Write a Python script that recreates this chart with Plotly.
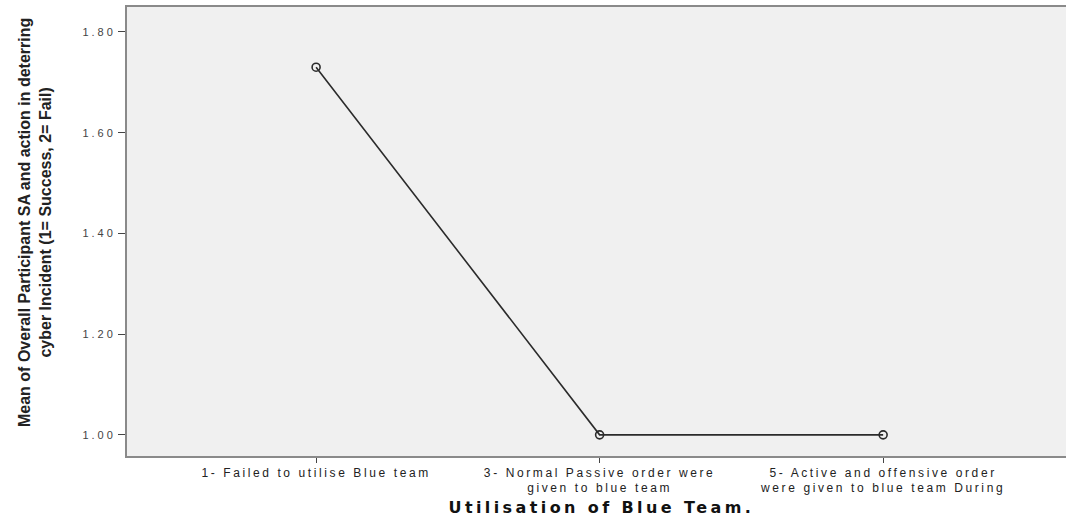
import plotly.graph_objects as go

categories = ["1- Failed to utilise Blue team",
              "3- Normal Passive order were<br>given to blue team",
              "5- Active and offensive order<br>were given to blue team During"]
means = [1.73, 1.00, 1.00]
ytick_vals = [1.00, 1.20, 1.40, 1.60, 1.80]

L, T, B = 127, 7, 61
W, H = 1066, 517
PW, PH = W - L, H - T - B

fig = go.Figure()
fig.add_trace(go.Scatter(
    x=list(range(len(categories))), y=means, mode="lines+markers",
    line=dict(color="#2b2b2b", width=1.6),
    marker=dict(symbol="circle-open", size=8, color="#2b2b2b", line=dict(width=1.6)),
    hoverinfo="skip", showlegend=False))

fig.update_layout(
    width=W, height=H,
    margin=dict(l=L, r=0, t=T, b=B, autoexpand=False),
    paper_bgcolor="white", plot_bgcolor="#f0f0f0",
    font=dict(family="Liberation Sans, Arial, sans-serif", color="#333333"),
    xaxis=dict(
        tickmode="array", tickvals=list(range(len(categories))), ticktext=categories,
        range=[-0.667, 2.645], showgrid=False, zeroline=False,
        showline=True, linecolor="#8a8a8a", linewidth=2, mirror=True,
        ticks="outside", ticklen=5, tickcolor="#444444", automargin=False,
        tickfont=dict(size=12, color="#222222")),
    yaxis=dict(
        tickmode="array", tickvals=ytick_vals, tickformat=".2f",
        range=[0.958, 1.8496], showgrid=False, zeroline=False,
        showline=True, linecolor="#8a8a8a", linewidth=2, automargin=False,
        ticks="outside", ticklen=7, tickcolor="#444444",
        tickfont=dict(size=11, color="#444444")),
    annotations=[
        dict(text="<b>Utilisation of Blue Team.</b>", xref="x", yref="paper",
             x=1.006, y=-(507 - 456) / PH, xanchor="center", yanchor="middle",
             showarrow=False,
             font=dict(size=16, color="#111111",
                       family="DejaVu Sans, Liberation Sans, sans-serif")),
        dict(text="<b>Mean of Overall Participant SA and action in deterring<br>cyber Incident (1= Success, 2= Fail)</b>",
             xref="paper", yref="paper", x=-(L - 35) / PW, y=(456 - 223) / PH,
             xanchor="center", yanchor="middle", textangle=-90, showarrow=False,
             font=dict(size=16, color="#222222",
                       family="Liberation Sans Narrow, Arial Narrow, sans-serif")),
    ],
)

post = """
document.body.style.margin='0';
document.body.style.overflow='hidden';
var gd=document.getElementById('{plot_id}');
function spaceText(){
  gd.querySelectorAll('.xtick text').forEach(function(t){
    t.style.letterSpacing='2.6px';
    var lines=t.querySelectorAll('tspan.line');
    for(var i=1;i<lines.length;i++){lines[i].setAttribute('dy',(i*1.18)+'em');}
  });
  gd.querySelectorAll('.ytick text').forEach(function(t){t.style.letterSpacing='3px';});
  var ann=gd.querySelectorAll('.annotation-text');
  if(ann.length){ann[0].style.letterSpacing='3.4px';}
}
spaceText();
"""

fig.write_html("out.html", post_script=post, config={"displayModeBar": False})
